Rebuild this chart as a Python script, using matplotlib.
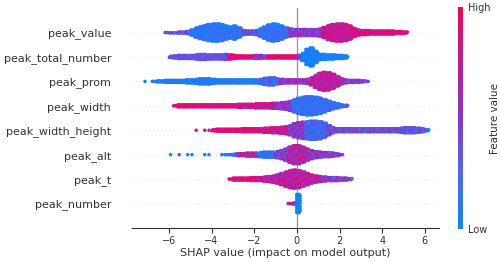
import numpy as np
import matplotlib.pyplot as plt
from matplotlib.colors import LinearSegmentedColormap

features = ["peak_value", "peak_total_number", "peak_prom", "peak_width",
            "peak_width_height", "peak_alt", "peak_t", "peak_number"]

# each feature: SHAP value of the first bin, bins every 0.2
# h = half height of the swarm in pixels, c = mean feature value (0 low .. 1 high)
value_start = -6.1
value_h = [1.5, 1.8, 1.8, 2, 2, 2.5, 4, 6, 7.5, 8.5,
           9.5, 10, 10, 9.5, 8, 7, 8, 6, 3.5, 3,
           3, 3.5, 5, 7, 9, 10, 9.5, 8, 6, 5,
           4.5, 4.5, 4.5, 4.5, 4.5, 4.5, 5, 6.5, 8.5, 9.5,
           10, 10, 9.5, 8, 5.5, 4, 3.5, 3.5, 3, 3,
           3, 3, 3, 3, 2.5, 2.5, 2]
value_c = [.35, .35, .35, .35, .35, .35, .12, .12, .12, .12,
           .12, .12, .12, .12, .12, .12, .12, .12, .35, .35,
           .35, .35, .15, .15, .15, .15, .15, .15, .15, .5,
           .5, .5, .5, .5, .5, .5, .5, .75, .75, .75,
           .75, .75, .75, .75, .85, .85, .85, .85, .85, .85,
           .85, .85, .85, .85, .85, .85, .85]

total_start = -5.9
total_h = [2, 2.5, 3, 3, 3, 3, 3.5, 4, 4, 3.5,
           3.5, 3.5, 3.5, 4, 3.5, 3, 2.5, 2.5, 2.5, 2.5,
           3, 3, 2.5, 2.5, 2.5, 2.5, 2.5, 2.5, 2.5, 2.5,
           3, 5, 9, 10.5, 7, 4, 4, 3.5, 3.5, 3,
           3, 2.5]
total_c = [.35, .35, .35, .35, .35, .35, .35, .35, .35, .35,
           .35, .35, .35, .35, .9, .9, .9, .9, .9, .9,
           .5, .5, .5, .9, .9, .9, .9, .9, .9, .9,
           .5, .04, .04, .04, .04, .04, .04, .04, .04, .04,
           .04, .04]

prom_start = -7.1
prom_h = [0.5, 0, 1.5, 2, 2, 2.5, 2.5, 2.5, 2.5, 2.5,
          3, 3, 3.5, 4, 4, 4, 3.5, 3, 3, 3,
          3, 3, 3, 3, 3, 3, 3, 3.5, 4.5, 5,
          5, 4, 3.5, 3, 3, 3, 3, 3, 3.5, 5,
          7.5, 9.5, 10.5, 10, 8.5, 6, 4, 3, 2.5, 2.5,
          2.5, 2, 1.5]
prom_c = [.05, .05, .05, .05, .05, .05, .05, .05, .05, .05,
          .05, .05, .05, .05, .05, .05, .05, .05, .05, .05,
          .05, .05, .05, .05, .05, .05, .05, .2, .2, .2,
          .2, .2, .55, .55, .55, .55, .55, .55, .55, .7,
          .7, .7, .7, .7, .7, .7, .7, .45, .45, .45,
          .45, .45, .45]

width_start = -5.7
width_h = [1.5, 2.5, 2.5, 2.5, 2.5, 2.5, 2.5, 2.5, 2.5, 2.5,
           2.5, 2.5, 2.5, 2.5, 2.5, 3, 3, 3, 3, 3.5,
           3.5, 3.5, 3.5, 4, 4, 4.5, 5, 6, 7.5, 9,
           10, 10.5, 10.5, 10, 9, 7.5, 6, 4.5, 3.5, 2.5,
           2]
width_c = [.9, .9, .9, .9, .9, .9, .9, .9, .9, .9,
           .9, .9, .9, .9, .9, .75, .75, .75, .75, .75,
           .75, .75, .75, .75, .5, .5, .5, .5, .15, .15,
           .15, .15, .15, .15, .15, .15, .15, .15, .15, .15,
           .15]

wh_start = -4.7
wh_h = [0.5, 0, 1, 1, 2, 2.5, 2.5, 2.5, 2.5, 2.5,
        2.5, 3, 3, 3, 3, 3, 3.5, 3.5, 4, 4,
        4.5, 5, 6, 8, 9, 9.5, 10, 10.5, 10.5, 10,
        8.5, 6, 4, 3, 3, 3, 3, 3, 3, 3,
        3, 3, 3, 3, 3, 3, 3, 3, 3.5, 4,
        4, 4, 3.5, 3, 2]
wh_c = [.9, .9, .9, .9, .9, .9, .9, .9, .9, .9,
        .9, .9, .9, .9, .9, .9, .9, .75, .75, .75,
        .75, .75, .5, .5, .5, .5, .2, .2, .2, .2,
        .2, .4, .4, .4, .4, .4, .4, .4, .4, .4,
        .4, .4, .4, .4, .4, .4, .4, .4, .3, .3,
        .3, .3, .3, .3, .3]

alt_start = -5.9
alt_h = [1, 0, 1, 0, 1, 1, 0, 0, 1, 1,
         0, 0, 1, 1.5, 1.5, 2, 2.5, 2.5, 3, 3,
         3, 3.5, 4, 4, 4, 4.5, 5.5, 7, 9, 10.5,
         10.5, 9, 7, 5.5, 4.5, 4, 3.5, 3.5, 3, 2.5,
         1.5]
alt_c = [.05, .05, .05, .05, .05, .05, .05, .05, .05, .05,
         .05, .05, .05, .05, .05, .05, .65, .65, .65, .65,
         .65, .1, .1, .1, .1, .5, .5, .5, .65, .65,
         .65, .65, .65, .5, .5, .5, .5, .5, .5, .5,
         .5]

t_start = -3.1
t_h = [1.5, 2.5, 2.5, 2.5, 2.5, 3, 3, 3, 3.5, 4,
       4.5, 5.5, 7, 8.5, 10, 10.5, 10, 8.5, 7, 5.5,
       4.5, 4, 3.5, 3, 3, 3, 2.5, 2.5, 2]
t_c = [.85, .85, .85, .85, .85, .85, .85, .7, .7, .7,
       .7, .7, .7, .7, .7, .7, .7, .7, .7, .7,
       .7, .7, .5, .5, .5, .5, .5, .5, .5]

number_start = -0.33
number_h = [1.5, 2, 10.5]
number_c = [0.8, 0.6, 0.02]

starts = [value_start, total_start, prom_start, width_start, wh_start, alt_start, t_start, number_start]
heights = [value_h, total_h, prom_h, width_h, wh_h, alt_h, t_h, number_h]
colors = [value_c, total_c, prom_c, width_c, wh_c, alt_c, t_c, number_c]
mix = [0.3, 0.2, 0.3, 0.3, 0.35, 0.35, 0.35, 0.1]

BIN = 0.2
PX_PER_ROW = 24.4
speckle = np.array([0.0, 0.9, -0.6, 0.4, -1.0, 0.2, 0.7, -0.3, -0.8, 0.5, -0.1])

cmap = LinearSegmentedColormap.from_list(
    "red_blue", ["#008bfb", "#4f66f2", "#8a33d2", "#c8159a", "#ff0052"])

row_y = np.arange(len(features))[::-1]

xs, ys, cs = [], [], []
for pos, start, h, c, amp in zip(row_y, starts, heights, colors, mix):
    k = 0
    for i, (hh, cc) in enumerate(zip(h, c)):
        if hh <= 0:
            continue
        x0 = start + BIN * i
        half = max(hh - 1.5, 0)
        n = int(round(2 * half / 1.3)) + 1
        offs = np.linspace(-half, half, n) / PX_PER_ROW
        cols = (0.0,) if hh < 1.2 else (-0.06, 0.0, 0.06)
        for j, dy in enumerate(offs):
            for dx in cols:
                xs.append(x0 + dx + (0.02 if j % 2 else -0.02))
                ys.append(pos + dy)
                cs.append(np.clip(cc + amp * speckle[k % len(speckle)], 0, 1))
                k += 1

fig = plt.figure(figsize=(5, 2.62), dpi=100)
ax = fig.add_axes([0.264, 0.130, 0.614, 0.839])

for y in row_y:
    ax.axhline(y, color="#cccccc", lw=0.5, dashes=(1, 5), zorder=-1)
ax.axvline(0, color="#999999", lw=1, zorder=-1)

sc = ax.scatter(xs, ys, c=cs, cmap=cmap, vmin=0, vmax=1, s=6.3, linewidths=0, zorder=3)

ax.set_xlim(-7.73, 6.66)
ax.set_ylim(-1, 8)
ax.set_yticks(row_y)
ax.set_yticklabels(features, fontsize=8)
ax.tick_params(axis="y", length=0, pad=15, labelcolor="#333333")
ax.set_xticks([-6, -4, -2, 0, 2, 4, 6])
ax.tick_params(axis="x", labelsize=7, pad=2.5, color="#333333", labelcolor="#333333")
for s in ["top", "right", "left"]:
    ax.spines[s].set_visible(False)
ax.spines["bottom"].set_color("#333333")
ax.set_xlabel("SHAP value (impact on model output)", fontsize=8, color="#333333", labelpad=1)

cax = fig.add_axes([0.916, 0.126, 0.0094, 0.847])
cb = fig.colorbar(sc, cax=cax, ticks=[0, 1])
cb.set_ticklabels(["Low", "High"])
cb.ax.tick_params(labelsize=7, length=0, labelcolor="#333333")
cb.set_label("Feature value", size=7.5, labelpad=0, color="#333333")
cb.outline.set_visible(False)

fig.savefig("out.png", dpi=100)
plt.close()
